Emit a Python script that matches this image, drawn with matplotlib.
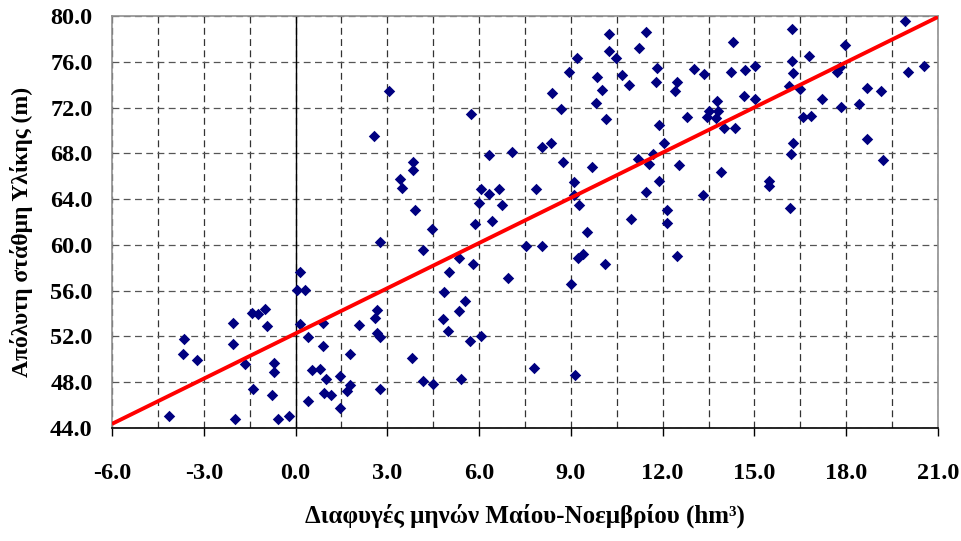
import numpy as np
import matplotlib.pyplot as plt
from matplotlib.ticker import MultipleLocator, FormatStrFormatter

# leakage (hm3) vs absolute lake level (m)
x_leak = [-4.12, -3.66, -3.68, -3.22, -2.06, -2.06, -1.97, -1.64, -1.41, -1.23,
          -1.01, -0.94, -1.39, -0.72, -0.72, -0.77, -0.58, -0.20, 0.15, 0.05,
          0.32, 0.15, 0.42, 0.54, 0.42,
          2.77, 4.18, 0.89, 0.89, 0.81, 1.00, 1.44, 0.92, 1.16, 1.44,
          1.79, 1.79, 1.68, 2.09, 2.66, 2.61, 2.66, 2.77, 2.77, 3.81,
          4.18, 4.51, 5.41, 5.36, 5.80, 5.03, 4.86, 5.55, 5.34, 4.82,
          4.98, 5.71, 6.07, 6.96, 7.54, 8.06, 7.80, 9.00, 9.25, 9.41,
          10.10, 9.15,
          3.07, 2.57, 3.40, 3.47, 3.84, 3.84, 3.92, 4.47, 5.75, 5.86,
          6.06, 6.01, 6.33, 6.33, 6.66, 6.74, 6.43, 7.06, 7.86, 8.06,
          8.35, 8.38, 8.69, 8.75, 8.95, 9.20, 9.11, 9.09, 9.26, 9.52,
          9.69, 9.84, 10.03, 9.83, 10.14, 10.26, 10.26, 10.47, 10.68, 10.90,
          10.97, 11.21, 11.24,
          11.46, 11.83, 11.78, 12.46, 12.40, 13.03, 13.36, 14.29, 14.23, 14.70,
          15.02, 16.22, 16.22, 16.27, 16.80, 17.95, 17.69, 17.80, 19.92, 20.03,
          20.55, 16.14, 16.49, 17.20, 18.67, 19.14, 17.83, 18.41, 16.58, 16.85,
          18.67, 19.20, 14.67, 15.02, 13.77, 13.50, 13.82, 13.45, 13.75, 12.81,
          14.01, 14.35, 11.89, 12.03, 16.27, 16.21, 11.70, 11.54, 12.55, 13.91,
          11.89, 11.46, 12.14, 12.14, 13.33, 15.49, 15.49, 16.17, 12.46]

y_level = [45.07, 51.76, 50.48, 49.96, 53.16, 51.33, 44.78, 49.61, 54.09, 53.97,
           54.38, 52.87, 47.42, 49.67, 48.88, 46.84, 44.78, 45.07, 57.61, 56.07,
           56.07, 53.07, 51.99, 49.08, 46.40,
           60.29, 59.56, 53.16, 51.18, 49.14, 48.27, 48.56, 47.05, 46.90, 45.74,
           50.48, 47.77, 47.25, 53.01, 54.32, 53.57, 52.34, 51.99, 47.42, 50.10,
           48.12, 47.83, 48.27, 58.89, 58.34, 57.61, 55.92, 55.11, 54.26, 53.54,
           52.49, 51.62, 52.05, 57.09, 59.91, 59.91, 49.23, 56.57, 58.84, 59.19,
           58.34, 48.65,
           73.45, 69.52, 65.76, 65.00, 67.28, 66.52, 63.06, 61.40, 71.47, 61.83,
           64.89, 63.64, 64.45, 67.83, 64.89, 63.49, 62.12, 68.10, 64.89, 68.56,
           68.93, 73.30, 71.88, 67.28, 75.08, 76.36, 65.47, 64.37, 63.52, 61.16,
           66.84, 74.67, 73.57, 72.43, 71.03, 78.46, 76.94, 76.33, 74.85, 73.97,
           62.24, 67.48, 77.18,
           78.57, 75.49, 74.26, 74.26, 73.45, 75.37, 74.96, 77.76, 75.08, 75.26,
           75.66, 78.86, 76.10, 75.05, 76.51, 77.47, 75.08, 75.57, 79.56, 75.08,
           75.63, 73.89, 73.62, 72.72, 73.69, 73.45, 72.03, 72.29, 71.21, 71.29,
           69.23, 67.40, 73.01, 72.75, 72.58, 71.70, 71.70, 71.15, 71.06, 71.21,
           70.19, 70.19, 70.48, 68.93, 68.93, 67.95, 67.95, 67.07, 67.01, 66.40,
           65.59, 64.60, 63.06, 61.95, 64.34, 65.59, 65.15, 63.20, 59.04]

# linear trend line shown on the chart
trend_slope = 1.317
trend_intercept = 52.26

plt.rcParams['font.family'] = 'Liberation Serif'
plt.rcParams['font.weight'] = 'bold'

fig = plt.figure(figsize=(9.62, 5.41), dpi=100)
ax = fig.add_axes([0.1164, 0.2089, 0.8586, 0.7615])

ax.set_xlim(-6, 21)
ax.set_ylim(44, 80)

# grid: dashed, vertical every 1.5, horizontal every 4
ax.xaxis.set_major_locator(MultipleLocator(3))
ax.xaxis.set_minor_locator(MultipleLocator(1.5))
ax.yaxis.set_major_locator(MultipleLocator(4))
ax.xaxis.set_major_formatter(FormatStrFormatter('%.1f'))
ax.yaxis.set_major_formatter(FormatStrFormatter('%.1f'))
ax.grid(which='both', axis='x', color='#333333', linestyle=(0, (5.5, 3.5)), linewidth=0.9)
ax.grid(which='major', axis='y', color='#555555', linestyle=(0, (5.5, 3.5)), linewidth=0.9)
ax.set_axisbelow(True)

# y axis crossing at x = 0
ax.axvline(0, color='black', linewidth=1.0, zorder=1)

ax.scatter(x_leak, y_level, marker='D', s=34, color='#000080', linewidths=0, zorder=3)

xx = np.array(ax.get_xlim())
ax.plot(xx, trend_slope * xx + trend_intercept, color='red', linewidth=2.8, zorder=4,
        solid_capstyle='butt')

for side in ['top', 'right', 'left']:
    ax.spines[side].set_color('#909090')
    ax.spines[side].set_linewidth(1.2)
ax.spines['bottom'].set_color('black')
ax.spines['bottom'].set_linewidth(1.2)

ax.tick_params(axis='x', which='major', length=6, width=1, direction='out', pad=19,
               labelsize=17.5)
ax.tick_params(axis='x', which='minor', length=0)
ax.tick_params(axis='y', length=0, pad=14, labelsize=17.5)
for lab in ax.get_xticklabels() + ax.get_yticklabels():
    lab.set_fontweight('bold')

ax.set_xlabel('Διαφυγές μηνών Μαίου-Νοεμβρίου (hm³)', fontsize=18, fontweight='bold',
              labelpad=14)
# y title placed by figure coords so its centre sits where the original has it
fig.text(22 / 962, 1 - 232 / 541, 'Απόλυτη στάθμη Υλίκης (m)', fontsize=17,
         fontweight='bold', rotation=90, ha='center', va='center')

fig.savefig('out.png', dpi=100)
